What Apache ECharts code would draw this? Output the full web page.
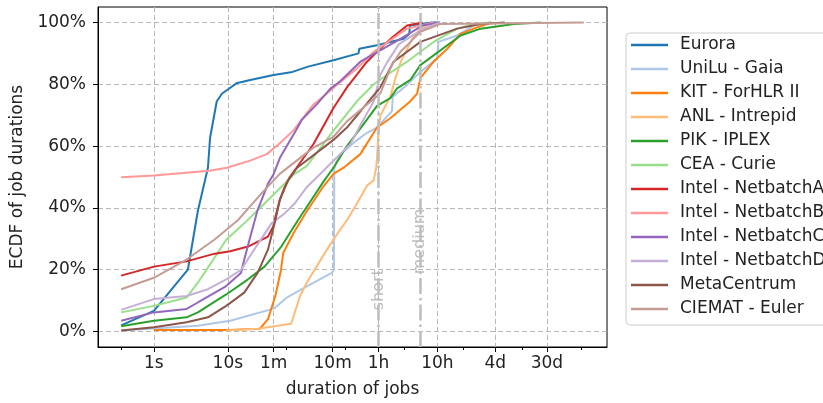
<!DOCTYPE html>
<html>
<head>
<meta charset="utf-8">
<script src="https://cdn.jsdelivr.net/npm/echarts@6/dist/echarts.min.js"></script>
<style>
  html, body { margin: 0; padding: 0; background: #fff; }
  #chart { width: 823px; height: 403px; }
</style>
</head>
<body>
<div id="chart"></div>
<script>
// ECDF of job durations: [duration in seconds, cumulative percent]
const eurora = [[0,2],[1,6.7],[2.1,20],[3.1,39],[4.6,53],[5,62.7],[6.5,74.5],[8,77],[10,78.3],[14,80.3],[24,81.4],[60,83],[125,84],[230,85.7],[620,87.8],[1650,90],[1700,91.5],[3400,92.6],[9600,94.7],[12000,96.3],[12300,99],[29000,100],[40000,100]];
const uniLu = [[0,0.3],[3.1,1.9],[11,3.5],[62,7.5],[100,11],[180,13.7],[580,19],[630,20],[640,52.6],[700,55],[900,58],[1500,61.7],[2300,64.3],[3400,66],[6100,71.3],[6300,76],[11000,79.8],[18500,84],[35700,88.3],[37400,93.7],[78000,95.8],[148000,99],[290000,100]];
const kit = [[1,0.5],[10,0.5],[35,0.9],[48,4],[64,11.5],[80,20],[87,25.4],[130,31.8],[220,39],[420,47],[620,51],[920,53],[1770,57.4],[3400,66],[5730,69],[12500,74.5],[16300,77],[18500,82],[31000,87.3],[53000,91.5],[89000,96.3],[148000,98],[300000,100]];
const anl = [[9.4,0.3],[32,0.9],[119,2.5],[168,11.5],[218,15.8],[480,26.5],[806,33],[1050,36],[1550,41.4],[2300,47.2],[2970,48.9],[3300,53],[3400,56],[3600,65],[3900,70],[5700,76],[7000,82],[8500,87],[13400,94.7],[18500,98],[31000,100]];
const pik = [[0,1.7],[1,3.5],[2,4.6],[3.1,6.2],[9.4,12],[22,16.9],[42,21],[81,27.5],[155,36],[250,42],[420,48.5],[620,53],[1050,60],[2000,67],[3400,73],[5730,75.5],[7450,78.7],[12500,81.4],[18500,86.2],[89000,95.8],[195000,98],[720000,99.5],[2050000,100]];
const cea = [[0,6.2],[1,8.3],[2,11],[3.1,15.8],[5.2,22.2],[9.4,29.7],[19,35],[42,41.4],[80,46.7],[136,51],[218,53.5],[620,65],[1550,74.5],[3000,80],[5000,83],[11000,87.3],[31000,93.7],[78000,98],[148000,99.5],[300000,100]];
const netbatchA = [[0,18.1],[1,21],[2,22.7],[6,25.2],[11,26],[22,27.5],[48,30.7],[59,34],[64,37],[76,42.5],[92,46.7],[113,50],[283,60.6],[620,72.3],[1050,79],[2300,87.3],[3400,90.5],[6000,95],[11000,99],[20000,100]];
const netbatchB = [[0,49.9],[1,50.5],[4.9,52],[9.6,53],[24,55.3],[46,57.4],[77,61],[129,65],[283,73.4],[708,79.8],[1550,85.1],[3000,90.5],[11000,98],[31000,100]];
const netbatchC = [[0,3.5],[1,6.2],[2,7.3],[3.1,9.4],[9.4,14.7],[16.8,19],[19,23.3],[25,31.8],[32,39.3],[48,47.8],[60,51],[77,56.3],[148,65.5],[180,68.5],[323,73.5],[545,78.5],[806,81],[1770,87.3],[3860,91],[8500,94.7],[20000,99],[40000,100]];
const netbatchD = [[0,7],[1,10.5],[2,11.5],[4.6,13.7],[9.4,16.9],[16.8,20],[28,26.5],[55,35],[92,38.2],[136,41.4],[218,46.7],[420,52],[545,54.2],[1200,60.6],[1800,67],[3000,74.5],[3860,83],[5000,87],[8000,93],[21000,98],[40000,100]];
const metaCentrum = [[0,0.3],[1,1.4],[2,3],[4.6,4.6],[9.4,8.3],[19,12.6],[32,19],[48,26.5],[64,36],[76,42.5],[105,48.9],[150,53],[620,62],[1050,66],[3860,79],[6500,87.3],[18500,93.7],[78000,98],[195000,99.5],[500000,100]];
const ciemat = [[0,13.7],[1,17.4],[2,23.3],[5.9,29.7],[14.8,36],[37,44.6],[76,51],[283,59.5],[620,63],[1050,68],[3860,77],[6000,86],[8500,90.5],[11000,92.6],[18500,97],[40000,99.5],[11000000,100]];

const seriesNames = ['Eurora', 'UniLu - Gaia', 'KIT - ForHLR II', 'ANL - Intrepid', 'PIK - IPLEX', 'CEA - Curie',
  'Intel - NetbatchA', 'Intel - NetbatchB', 'Intel - NetbatchC', 'Intel - NetbatchD', 'MetaCentrum', 'CIEMAT - Euler'];
const seriesData = [eurora, uniLu, kit, anl, pik, cea, netbatchA, netbatchB, netbatchC, netbatchD, metaCentrum, ciemat];
const seriesColors = ['#1f77b4', '#aec7e8', '#ff7f0e', '#ffbb78', '#2ca02c', '#98df8a',
  '#d62728', '#ff9896', '#9467bd', '#c5b0d5', '#8c564b', '#c49c94'];

const tickSeconds = [1, 10, 60, 600, 3600, 36000, 345600, 2592000];
const tickLabels = ['1s', '10s', '1m', '10m', '1h', '10h', '4d', '30d'];
const minorTickSeconds = [0, 1, 10, 100, 1000, 10000, 100000, 1000000, 10000000];
const yTicks = [0, 20, 40, 60, 80, 100];

// job class limits
const limitSeconds = [3600, 18000];
const limitLabels = ['short', 'medium'];
const limitLabelY = [15.8, 31.4];

// symlog x scale (linthresh 2 s, linscale 1), as in the source plot
const LINTHRESH = 2;
const LINSCALE = 1 / (1 - 1 / 10);
const symlog = s => (s <= LINTHRESH ? s / LINTHRESH * LINSCALE : LINSCALE + Math.log10(s / LINTHRESH));

const allX = seriesData.flat().map(d => symlog(d[0]));
const xLo = Math.min(...allX);
const xHi = Math.max(...allX);
const xPad = (xHi - xLo) * 0.05;

const FONT = 'DejaVu Sans';
const FS = 17;
const GRID_LINE = { show: true, lineStyle: { color: '#b8b8b8', type: [5, 3], width: 1 } };

const chart = echarts.init(document.getElementById('chart'));

const series = seriesData.map((d, i) => ({
  name: seriesNames[i],
  type: 'line',
  data: d.map(p => [symlog(p[0]), p[1]]),
  showSymbol: false,
  symbol: 'none',
  color: seriesColors[i],
  lineStyle: { width: 2 },
  z: 3,
}));

// vertical class limits and their labels
series.unshift({
  name: 'limits',
  type: 'line',
  data: [],
  silent: true,
  z: 2,
  markLine: {
    silent: true,
    symbol: 'none',
    label: { show: false },
    lineStyle: { color: '#bdbdbd', width: 2.5, type: [16, 4, 2.5, 4] },
    data: limitSeconds.map(s => ({ xAxis: symlog(s) })),
  },
  markPoint: {
    silent: true,
    symbol: 'circle',
    symbolSize: 1,
    itemStyle: { color: 'rgba(0,0,0,0)' },
    label: {
      show: true,
      position: 'inside',
      rotate: 90,
      offset: [-7, 0],
      color: '#bdbdbd',
      fontSize: 16,
      fontFamily: FONT,
      formatter: p => p.name,
    },
    data: limitSeconds.map((s, i) => ({ name: limitLabels[i], coord: [symlog(s), limitLabelY[i]] })),
  },
});

chart.setOption({
  animation: false,
  textStyle: { fontFamily: FONT },
  grid: {
    left: 98,
    top: 7,
    width: 509,
    height: 344,
    show: true,
    borderColor: '#000',
    borderWidth: 1,
    containLabel: false,
  },
  legend: {
    data: seriesNames,
    orient: 'vertical',
    left: 626,
    top: 33,
    icon: 'rect',
    itemWidth: 37,
    itemHeight: 2.5,
    itemGap: 6,
    padding: [3, 8, 7, 5],
    borderColor: '#cccccc',
    borderWidth: 1,
    borderRadius: 4,
    backgroundColor: '#fff',
    textStyle: { fontSize: FS, lineHeight: 18, color: '#222', fontFamily: FONT, padding: [0, 0, 0, 7] },
  },
  xAxis: [
    {
      type: 'value',
      min: xLo - xPad,
      max: xHi + xPad,
      name: 'duration of jobs',
      nameLocation: 'middle',
      nameGap: 34,
      nameTextStyle: { fontSize: FS, color: '#222' },
      axisLine: { onZero: false, lineStyle: { color: '#000' } },
      axisTick: { length: 5, lineStyle: { color: '#000' }, customValues: tickSeconds.map(symlog) },
      axisLabel: {
        customValues: tickSeconds.map(symlog),
        margin: 8,
        fontSize: FS,
        color: '#222',
        formatter: v => {
          let best = 0;
          tickSeconds.forEach((s, i) => {
            if (Math.abs(symlog(s) - v) < Math.abs(symlog(tickSeconds[best]) - v)) best = i;
          });
          return tickLabels[best];
        },
      },
      splitLine: GRID_LINE,
    },
    {
      type: 'value',
      position: 'bottom',
      min: xLo - xPad,
      max: xHi + xPad,
      axisLine: { show: false, onZero: false },
      axisLabel: { show: false },
      splitLine: { show: false },
      axisTick: { length: 3, lineStyle: { color: '#000' }, customValues: minorTickSeconds.map(symlog) },
    },
  ],
  yAxis: {
    type: 'value',
    min: -5,
    max: 105,
    name: 'ECDF of job durations',
    nameLocation: 'middle',
    nameGap: 70,
    nameTextStyle: { fontSize: FS, color: '#222' },
    axisLine: { show: true, onZero: false, lineStyle: { color: '#000' } },
    axisTick: { show: true, length: 5, lineStyle: { color: '#000' }, customValues: yTicks },
    axisLabel: { customValues: yTicks, margin: 12, fontSize: FS, color: '#222', formatter: '{value}%' },
    splitLine: GRID_LINE,
  },
  series: series,
});
</script>
</body>
</html>
